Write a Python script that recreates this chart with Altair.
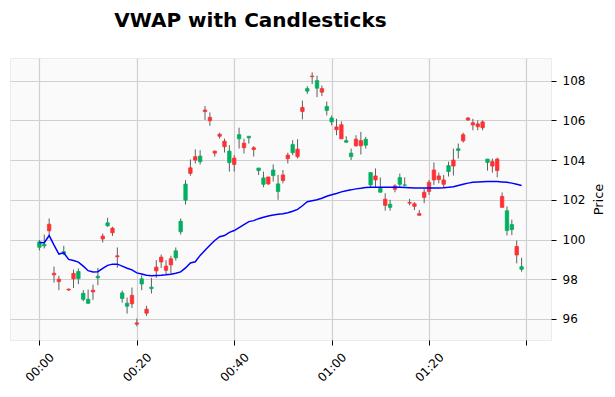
import altair as alt
import pandas as pd

# --- data (1-minute candles, index 0..99) ---
opens = [99.61, 99.68, 100.77, 98.30, 98.00, 99.29, 97.50, 98.29, 98.03, 96.99,
         96.79, 97.45, 98.07, 100.17, 100.69, 100.57, 99.18, 97.03, 96.64, 97.19,
         95.80, 97.76, 96.49, 97.53, 98.61, 99.11, 98.66, 99.03, 99.08, 100.39,
         101.98, 103.61, 104.17, 103.92, 106.52, 106.15, 104.45, 105.30, 104.95, 103.87,
         104.10, 105.07, 104.85, 105.12, 104.62, 103.47, 102.78, 103.15, 103.22, 102.42,
         103.25, 104.25, 104.37, 104.55, 106.65, 107.47, 108.23, 107.62, 107.60, 106.50,
         105.92, 105.67, 105.78, 104.90, 104.17, 105.05, 104.98, 104.75, 102.75, 103.20,
         102.38, 102.03, 101.62, 102.70, 102.78, 102.73, 101.87, 101.80, 101.30, 102.38,
         102.88, 103.50, 103.20, 103.00, 103.42, 104.00, 104.48, 105.28, 106.12, 105.88,
         105.82, 105.92, 103.88, 103.92, 104.05, 102.17, 100.45, 100.50, 99.65, 98.50]
highs = [99.98, 100.25, 101.06, 98.64, 98.17, 99.68, 97.53, 98.49, 98.54, 97.45,
         97.48, 97.73, 98.57, 100.30, 101.09, 100.64, 99.60, 97.43, 97.08, 97.58,
         96.02, 98.20, 96.66, 98.07, 98.96, 99.24, 98.96, 99.18, 99.60, 101.06,
         102.99, 104.03, 104.54, 104.50, 106.72, 106.40, 104.47, 105.38, 105.08, 104.75,
         104.25, 105.63, 105.08, 105.20, 104.70, 103.60, 103.42, 103.15, 103.78, 103.25,
         103.50, 104.37, 105.00, 105.05, 107.00, 107.72, 108.42, 108.25, 107.75, 106.95,
         106.25, 106.08, 105.95, 105.20, 104.58, 105.25, 105.42, 105.17, 103.37, 103.58,
         103.12, 102.33, 102.00, 102.78, 103.32, 103.13, 102.05, 101.88, 101.48, 102.55,
         103.00, 103.88, 103.37, 103.25, 103.92, 104.58, 104.83, 105.38, 106.17, 106.08,
         106.00, 106.00, 104.05, 104.08, 104.12, 102.37, 101.67, 101.00, 99.95, 99.08]
lows = [99.45, 99.55, 100.22, 97.83, 97.45, 99.21, 97.41, 97.56, 97.75, 96.89,
        96.76, 96.96, 97.70, 99.85, 100.64, 100.18, 98.58, 96.82, 96.27, 96.55,
        95.63, 97.45, 96.15, 97.28, 98.07, 98.57, 98.24, 98.29, 98.94, 100.25,
        101.76, 103.21, 103.83, 103.78, 106.02, 105.73, 104.18, 105.08, 104.38, 103.42,
        103.42, 104.58, 104.33, 104.83, 104.18, 103.25, 102.63, 102.75, 102.92, 102.00,
        102.83, 103.83, 104.25, 104.08, 106.05, 107.33, 107.83, 107.17, 107.22, 106.25,
        105.75, 105.25, 105.07, 104.87, 104.00, 104.67, 104.28, 104.58, 102.62, 102.62,
        102.38, 101.45, 101.45, 102.38, 102.62, 102.67, 101.72, 101.48, 101.22, 101.83,
        102.25, 102.75, 102.83, 102.63, 103.17, 103.22, 104.08, 104.88, 105.97, 105.50,
        105.50, 105.50, 103.47, 103.37, 103.13, 101.62, 100.20, 100.22, 98.80, 98.38]
closes = [99.88, 99.76, 100.44, 98.22, 97.88, 99.39, 97.46, 98.02, 98.39, 97.29,
          96.99, 97.36, 98.15, 100.03, 100.84, 100.34, 99.13, 97.31, 96.79, 96.76,
          95.74, 98.02, 96.29, 97.60, 98.42, 98.87, 98.45, 98.72, 99.43, 100.92,
          102.79, 103.33, 104.00, 104.20, 106.44, 105.98, 104.35, 105.20, 104.67, 104.45,
          103.78, 105.28, 104.62, 105.20, 104.53, 103.60, 103.10, 102.80, 103.50, 102.80,
          102.97, 104.07, 104.78, 104.17, 106.45, 107.60, 108.20, 108.00, 107.42, 106.70,
          106.12, 105.53, 105.07, 104.98, 104.35, 104.72, 104.72, 105.05, 103.37, 103.00,
          102.58, 101.72, 101.78, 102.53, 103.12, 102.75, 101.83, 101.67, 101.22, 102.12,
          102.42, 103.00, 103.02, 102.78, 103.72, 103.70, 104.57, 104.97, 106.02, 105.77,
          105.68, 105.63, 104.05, 103.70, 103.47, 101.62, 101.45, 100.75, 99.22, 98.63]
vwap = [99.85, 99.84, 100.20, 99.72, 99.27, 99.33, 99.00, 98.94, 98.86, 98.66,
        98.43, 98.36, 98.38, 98.55, 98.70, 98.76, 98.76, 98.66, 98.55, 98.47,
        98.32, 98.26, 98.20, 98.18, 98.19, 98.20, 98.22, 98.25, 98.30, 98.37,
        98.57, 98.82, 98.88, 99.20, 99.46, 99.71, 99.95, 100.14, 100.20, 100.36,
        100.45, 100.60, 100.75, 100.90, 100.95, 101.05, 101.12, 101.18, 101.23, 101.27,
        101.30, 101.35, 101.42, 101.52, 101.70, 101.90, 101.95, 102.00, 102.08, 102.18,
        102.25, 102.32, 102.40, 102.46, 102.50, 102.55, 102.58, 102.62, 102.63, 102.63,
        102.63, 102.63, 102.63, 102.63, 102.63, 102.62, 102.61, 102.60, 102.60, 102.60,
        102.60, 102.60, 102.60, 102.61, 102.63, 102.66, 102.72, 102.78, 102.84, 102.88,
        102.90, 102.91, 102.92, 102.92, 102.92, 102.90, 102.88, 102.84, 102.78, 102.72]

tick_positions = [0, 20, 40, 60, 80, 100]
tick_labels = ["00:00", "00:20", "00:40", "01:00", "01:20", ""]
price_ticks = [96, 98, 100, 102, 104, 106, 108]

df = pd.DataFrame({
    "i": list(range(len(opens))),
    "open": opens, "high": highs, "low": lows, "close": closes, "vwap": vwap,
})
df["dir"] = ["up" if c >= o else "down" for o, c in zip(opens, closes)]

label_expr = "''"
for p, l in reversed(list(zip(tick_positions, tick_labels))):
    label_expr = f"datum.value == {p} ? '{l}' : ({label_expr})"

FONT = "DejaVu Sans"

xscale = alt.Scale(domain=[-6.04, 105.04], nice=False, zero=False, padding=0)
yscale = alt.Scale(domain=[94.94, 109.14], nice=False, zero=False)

x_enc = alt.X("i:Q", scale=xscale, axis=alt.Axis(
    values=tick_positions, labelExpr=label_expr, title=None,
    labelAngle=315, labelAlign="center", labelBaseline="middle",
    labelPadding=22, tickSize=5, labelFontSize=12, labelFont=FONT,
    labelOverlap=False, labelFlush=False, grid=True))

y_axis = alt.Axis(
    orient="right", values=price_ticks, title="Price", tickSize=5,
    labelPadding=6, labelAlign="left", labelBaseline="middle",
    labelFontSize=12, labelFont=FONT, labelFlush=False, grid=True,
    titleAngle=270, titleX=47, titleY=141, titleAlign="center",
    titleBaseline="middle", titleFontSize=13, titleFont=FONT,
    titleFontWeight="normal", titleColor="black")

color = alt.Color("dir:N", scale=alt.Scale(domain=["up", "down"],
                                           range=["#00b060", "#fe3032"]),
                  legend=None)

base = alt.Chart(df)

wicks = base.mark_rule(color="#606060", strokeWidth=1).encode(
    x=x_enc,
    y=alt.Y("low:Q", scale=yscale, axis=y_axis),
    y2="high:Q",
)

bodies = base.mark_bar(size=3.4, strokeWidth=0.8).encode(
    x=alt.X("i:Q", scale=xscale),
    y=alt.Y("open:Q", scale=yscale),
    y2="close:Q",
    color=color,
    stroke=alt.Stroke("dir:N", scale=alt.Scale(domain=["up", "down"],
                                               range=["#00b060", "#fe3032"]),
                      legend=None),
)

line = base.mark_line(color="blue", strokeWidth=1.5).encode(
    x=alt.X("i:Q", scale=xscale),
    y=alt.Y("vwap:Q", scale=yscale),
)

chart = alt.layer(wicks, bodies, line).properties(
    width=541, height=282,
    title=alt.Title("VWAP with Candlesticks", fontSize=20, font=FONT,
                    fontWeight="bold", anchor="middle", dx=-30, offset=11,
                    baseline="alphabetic", color="black"),
    autosize=alt.AutoSizeParams(type="none"),
    padding={"left": 2, "top": 50, "right": 56, "bottom": 45},
).configure_view(
    fill="#fafafa", stroke="#ececec"
).configure_axis(
    gridColor="#d0d0d0", gridWidth=1.2, domain=False,
    tickColor="black", labelColor="black",
)

chart.save("out.html", embed_options={"renderer": "svg", "actions": False})
